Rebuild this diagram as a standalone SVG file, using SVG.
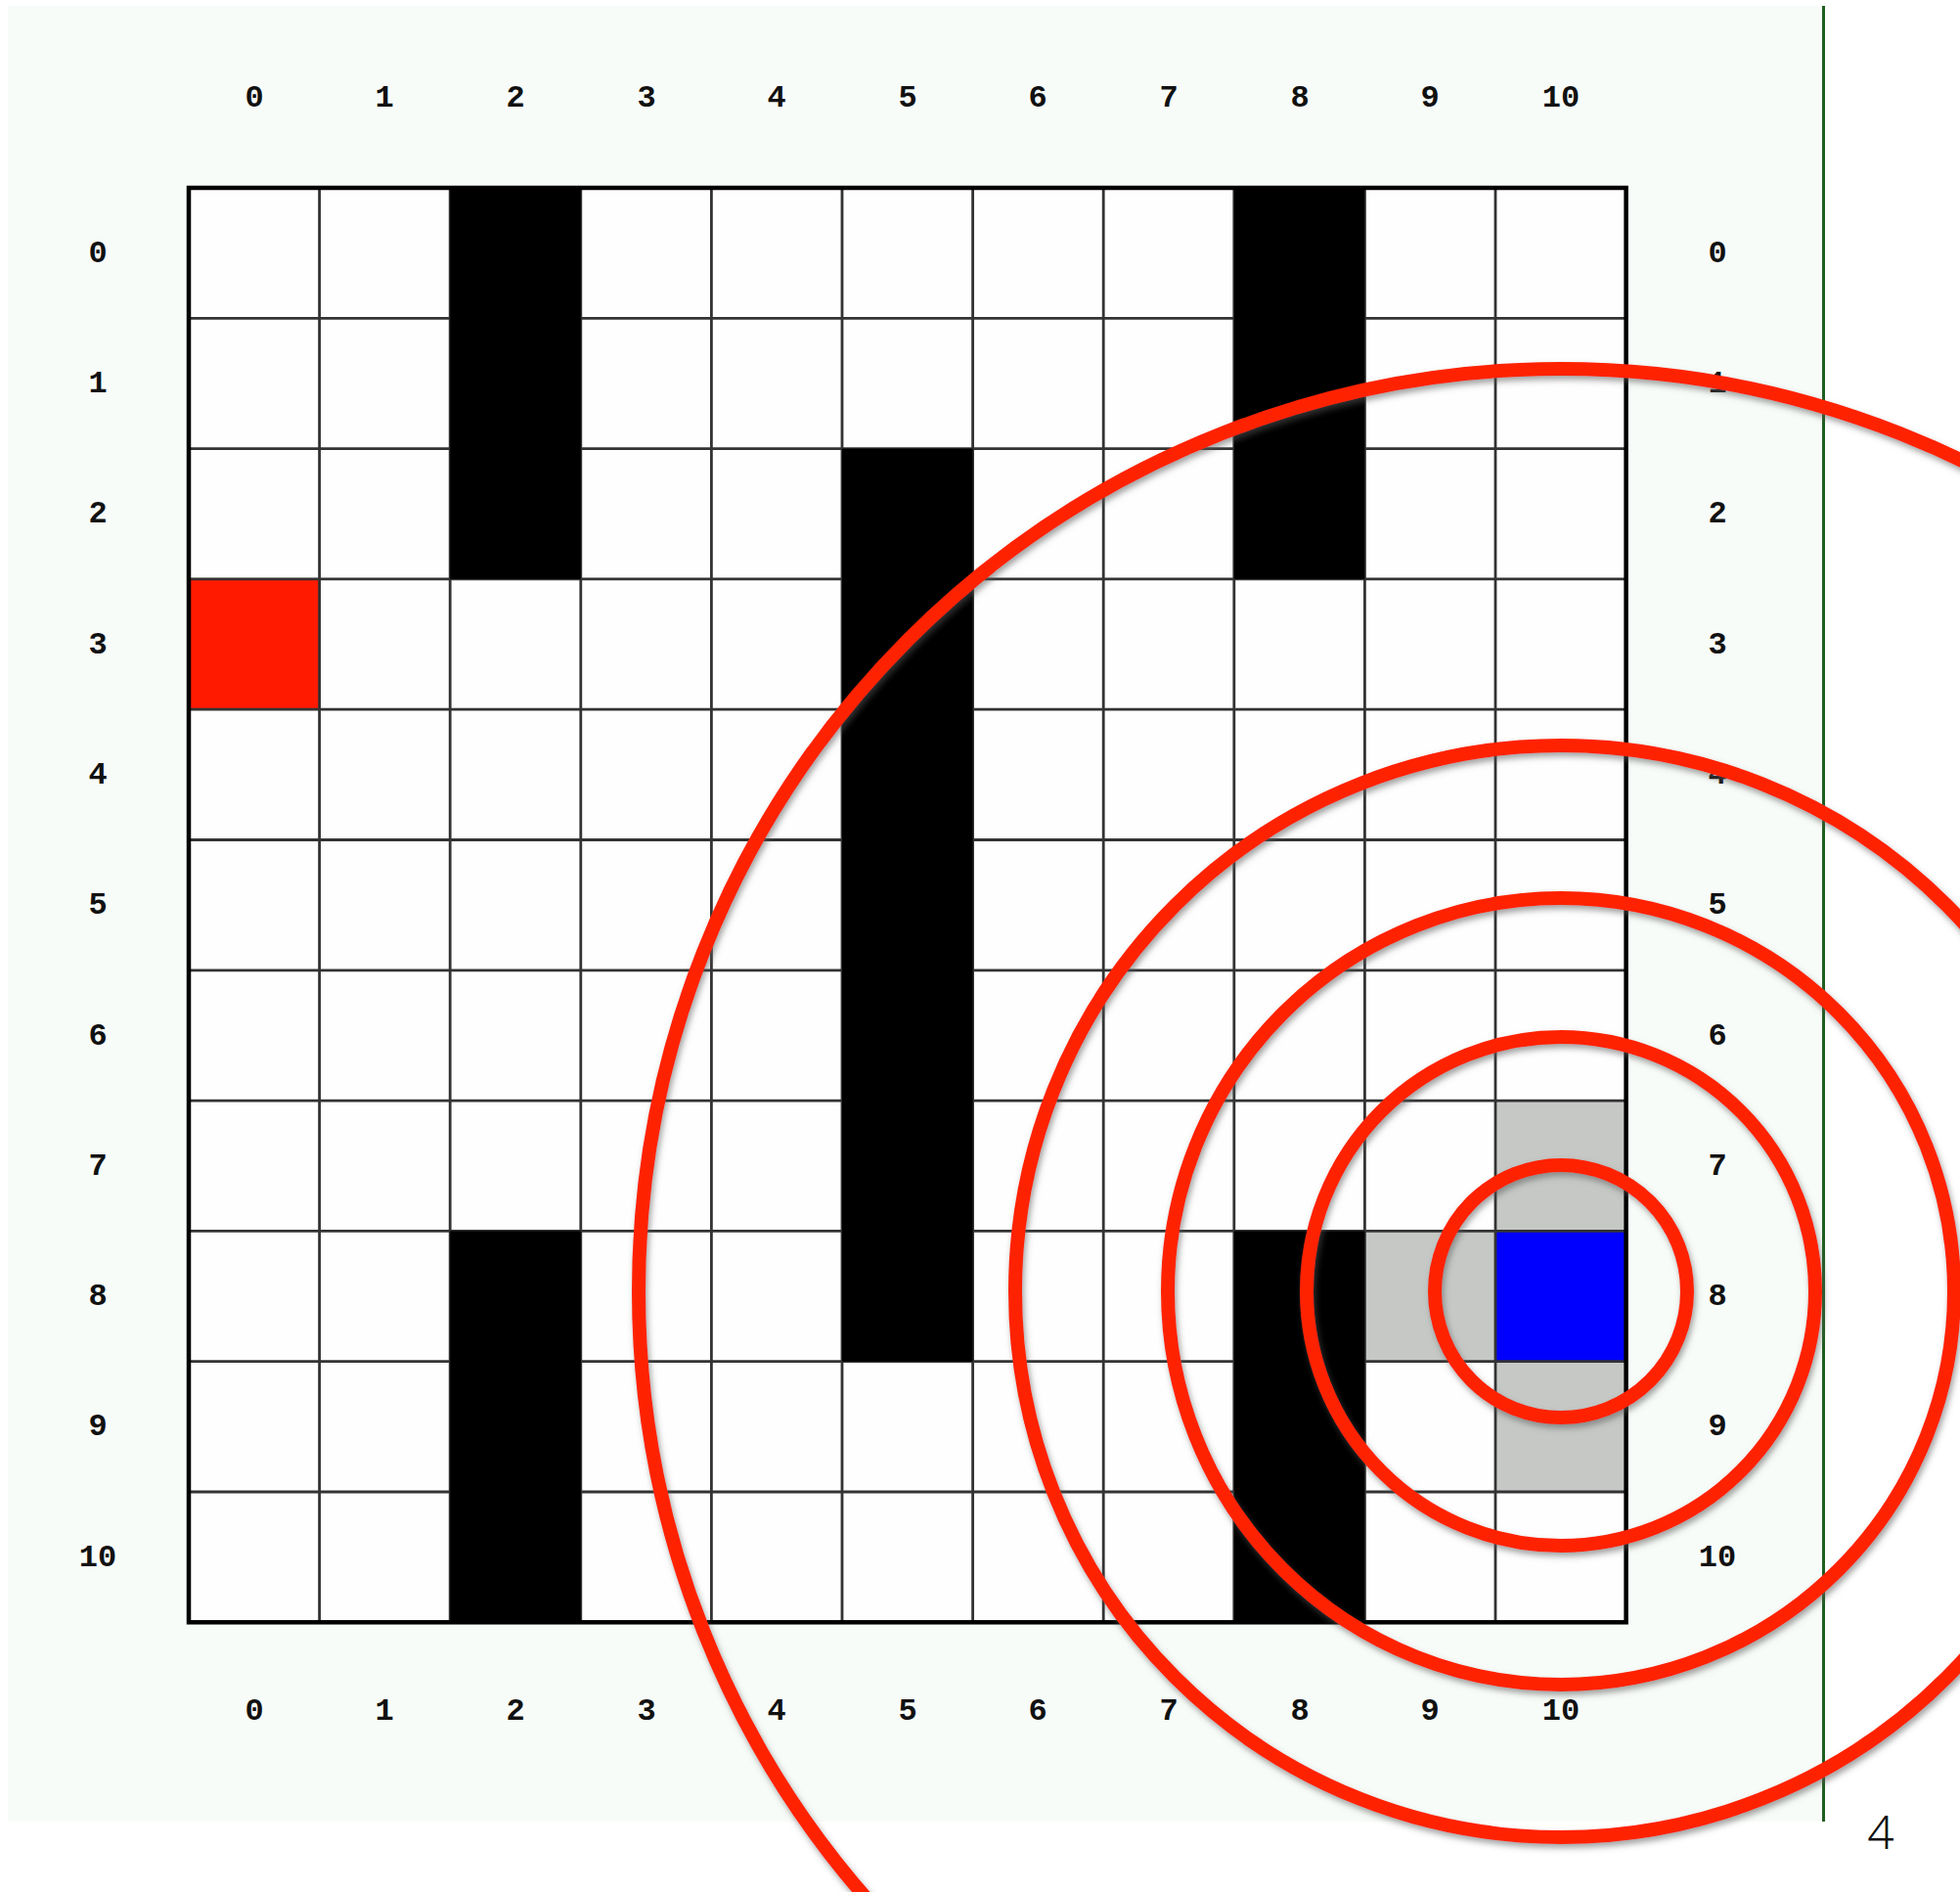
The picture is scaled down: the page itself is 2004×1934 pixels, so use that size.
<svg xmlns="http://www.w3.org/2000/svg" width="2004" height="1934" viewBox="0 0 2004 1934">
<defs>
<style>
.lbl{font-family:"Liberation Mono","DejaVu Sans Mono",monospace;font-weight:bold;font-size:32px;fill:#111;text-anchor:middle}
.gl{stroke:#333;stroke-width:2.8;fill:none}
.blk{fill:#000}
.gry{fill:#c5c8c5}
.ring{fill:none;stroke:#ff2200;stroke-width:14}
</style>
<filter id="sh" x="-10%" y="-10%" width="120%" height="120%">
<feDropShadow dx="2" dy="4" stdDeviation="3" flood-color="#555" flood-opacity="0.55"/>
</filter>
</defs>
<rect width="2004" height="1934" fill="#ffffff"/>
<rect x="8" y="6" width="1856" height="1856" fill="#f8fcf8"/>
<line x1="1864.5" y1="6" x2="1864.5" y2="1862" stroke="#1f5e1f" stroke-width="3"/>
<text x="1923" y="1890" font-family="'Noto Sans','Liberation Sans',sans-serif" font-weight="300" font-size="48" fill="#111" text-anchor="middle">4</text>

<g id="grid">
<rect x="193" y="192" width="1469.6" height="1466.3" fill="#fdfefd"/>
<g id="cells">
<rect id="start" x="193" y="591.9" width="133.6" height="133.3" fill="#ff1a00"/>
<rect class="gry" x="1529" y="1125.1" width="133.6" height="133.3"/>
<rect class="gry" x="1395.4" y="1258.4" width="133.6" height="133.3"/>
<rect class="gry" x="1529" y="1391.7" width="133.6" height="133.3"/>
<rect id="goal" x="1529" y="1258.4" width="133.6" height="133.3" fill="#0000ff"/>
</g>
<g id="lines">
<path class="gl" d="M326.6 192V1658.3M460.2 192V1658.3M593.8 192V1658.3M727.4 192V1658.3M861 192V1658.3M994.6 192V1658.3M1128.2 192V1658.3M1261.8 192V1658.3M1395.4 192V1658.3M1529 192V1658.3"/>
<path class="gl" d="M193 325.3H1662.6M193 458.6H1662.6M193 591.9H1662.6M193 725.2H1662.6M193 858.5H1662.6M193 991.8H1662.6M193 1125.1H1662.6M193 1258.4H1662.6M193 1391.7H1662.6M193 1525H1662.6"/>
</g>
<g id="walls">
<rect class="blk" x="460.2" y="192" width="133.6" height="399.9"/>
<rect class="blk" x="1261.8" y="192" width="133.6" height="399.9"/>
<rect class="blk" x="861" y="458.6" width="133.6" height="933.1"/>
<rect class="blk" x="460.2" y="1258.4" width="133.6" height="399.9"/>
<rect class="blk" x="1261.8" y="1258.4" width="133.6" height="399.9"/>
</g>
<rect x="193" y="192" width="1469.6" height="1466.3" fill="none" stroke="#000" stroke-width="4.5"/>
</g>

<g id="labels">
<g id="top">
<text class="lbl" x="260" y="109">0</text><text class="lbl" x="393" y="109">1</text><text class="lbl" x="527" y="109">2</text><text class="lbl" x="661" y="109">3</text><text class="lbl" x="794" y="109">4</text><text class="lbl" x="928" y="109">5</text><text class="lbl" x="1061" y="109">6</text><text class="lbl" x="1195" y="109">7</text><text class="lbl" x="1329" y="109">8</text><text class="lbl" x="1462" y="109">9</text><text class="lbl" x="1596" y="109">10</text>
</g>
<g id="bottom">
<text class="lbl" x="260" y="1758">0</text><text class="lbl" x="393" y="1758">1</text><text class="lbl" x="527" y="1758">2</text><text class="lbl" x="661" y="1758">3</text><text class="lbl" x="794" y="1758">4</text><text class="lbl" x="928" y="1758">5</text><text class="lbl" x="1061" y="1758">6</text><text class="lbl" x="1195" y="1758">7</text><text class="lbl" x="1329" y="1758">8</text><text class="lbl" x="1462" y="1758">9</text><text class="lbl" x="1596" y="1758">10</text>
</g>
<g id="left">
<text class="lbl" x="100" y="268">0</text><text class="lbl" x="100" y="401">1</text><text class="lbl" x="100" y="534">2</text><text class="lbl" x="100" y="668">3</text><text class="lbl" x="100" y="801">4</text><text class="lbl" x="100" y="934">5</text><text class="lbl" x="100" y="1068">6</text><text class="lbl" x="100" y="1201">7</text><text class="lbl" x="100" y="1334">8</text><text class="lbl" x="100" y="1467">9</text><text class="lbl" x="100" y="1601">10</text>
</g>
<g id="right">
<text class="lbl" x="1756" y="268">0</text><text class="lbl" x="1756" y="401">1</text><text class="lbl" x="1756" y="534">2</text><text class="lbl" x="1756" y="668">3</text><text class="lbl" x="1756" y="801">4</text><text class="lbl" x="1756" y="934">5</text><text class="lbl" x="1756" y="1068">6</text><text class="lbl" x="1756" y="1201">7</text><text class="lbl" x="1756" y="1334">8</text><text class="lbl" x="1756" y="1467">9</text><text class="lbl" x="1756" y="1601">10</text>
</g>
</g>

<g id="rings" filter="url(#sh)">
<circle class="ring" cx="1596" cy="1320" r="129"/>
<circle class="ring" cx="1596" cy="1320" r="260"/>
<circle class="ring" cx="1596" cy="1320" r="402"/>
<circle class="ring" cx="1596" cy="1320" r="558"/>
<circle class="ring" cx="1596" cy="1320" r="943"/>
</g>
</svg>
